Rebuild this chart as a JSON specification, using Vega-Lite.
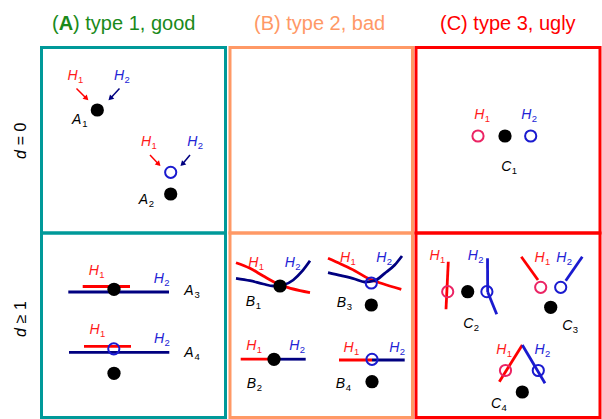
{
  "$schema": "https://vega.github.io/schema/vega-lite/v6.json",
  "width": 602,
  "height": 419,
  "autosize": "none",
  "padding": 0,
  "background": "white",
  "config": {"view": {"stroke": null}, "text": {"font": "Liberation Sans"}},
  "datasets": {
    "borders": [
      {"x": 41.5, "x2": 225.5, "y": 47.5, "y2": 233, "k": "tA"},
      {"x": 41.5, "x2": 225.5, "y": 233, "y2": 417.5, "k": "tA"},
      {"x": 230, "x2": 412.5, "y": 47.5, "y2": 233, "k": "tB"},
      {"x": 230, "x2": 412.5, "y": 233, "y2": 417.5, "k": "tB"},
      {"x": 416, "x2": 600, "y": 47.5, "y2": 233, "k": "tC"},
      {"x": 416, "x2": 600, "y": 233, "y2": 417.5, "k": "tC"}
    ],
    "titles": [
      {"x": 52, "y": 30, "t": "(", "k": "gA"},
      {"x": 73.1, "y": 30, "t": ") type 1, good", "k": "gA"},
      {"x": 254, "y": 30, "t": "(B) type 2, bad", "k": "tB"},
      {"x": 440, "y": 30, "t": "(C) type 3, ugly", "k": "tC"}
    ],
    "titlesBold": [
      {"x": 58.7, "y": 30, "t": "A", "k": "gA"}
    ],
    "rowItalic": [
      {"x": 21, "y": 159, "t": "d", "k": "black"},
      {"x": 21, "y": 337, "t": "d", "k": "black"}
    ],
    "rowRest": [
      {"x": 21, "y": 145.2, "t": "=\u00a00", "k": "black"},
      {"x": 21, "y": 323.2, "t": "≥\u00a01", "k": "black"}
    ],
    "segments": [
      {"x": 68.3, "y": 292, "x2": 169, "y2": 292, "k": "navy"},
      {"x": 82.7, "y": 286.5, "x2": 130, "y2": 286.5, "k": "red"},
      {"x": 69, "y": 352.3, "x2": 169.3, "y2": 352.3, "k": "navy"},
      {"x": 84, "y": 346.3, "x2": 131, "y2": 346.3, "k": "red"},
      {"x": 240.7, "y": 359.2, "x2": 274.7, "y2": 359.2, "k": "red"},
      {"x": 274.7, "y": 359.2, "x2": 305.7, "y2": 359.2, "k": "navy"},
      {"x": 339, "y": 360, "x2": 372, "y2": 360, "k": "red"},
      {"x": 372, "y": 360, "x2": 404.7, "y2": 360, "k": "navy"},
      {"x": 448.3, "y": 261.7, "x2": 446, "y2": 309.3, "k": "red"},
      {"x": 487.5, "y": 258.3, "x2": 487.7, "y2": 292, "k": "blue"},
      {"x": 487.7, "y": 292, "x2": 496.7, "y2": 314.3, "k": "blue"},
      {"x": 521.3, "y": 256.7, "x2": 538, "y2": 280, "k": "red"},
      {"x": 565.7, "y": 280.7, "x2": 582.3, "y2": 256.7, "k": "blue"},
      {"x": 499.3, "y": 381.7, "x2": 522.3, "y2": 345, "k": "red"},
      {"x": 522.3, "y": 345, "x2": 545, "y2": 383.3, "k": "blue"}
    ],
    "curves": [
      {"g": "b1r", "k": "red", "o": 1, "x": 236, "y": 262.7},
      {"g": "b1r", "k": "red", "o": 2, "x": 250, "y": 268.3},
      {"g": "b1r", "k": "red", "o": 3, "x": 263.3, "y": 276},
      {"g": "b1r", "k": "red", "o": 4, "x": 276.7, "y": 283.3},
      {"g": "b1r", "k": "red", "o": 5, "x": 288.3, "y": 287.7},
      {"g": "b1r", "k": "red", "o": 6, "x": 300, "y": 290.7},
      {"g": "b1r", "k": "red", "o": 7, "x": 310, "y": 292.7},
      {"g": "b1n", "k": "navy", "o": 1, "x": 236, "y": 278.3},
      {"g": "b1n", "k": "navy", "o": 2, "x": 250, "y": 280.7},
      {"g": "b1n", "k": "navy", "o": 3, "x": 263.3, "y": 284},
      {"g": "b1n", "k": "navy", "o": 4, "x": 273.3, "y": 286},
      {"g": "b1n", "k": "navy", "o": 5, "x": 283.3, "y": 285},
      {"g": "b1n", "k": "navy", "o": 6, "x": 293.3, "y": 280},
      {"g": "b1n", "k": "navy", "o": 7, "x": 301.7, "y": 271.7},
      {"g": "b1n", "k": "navy", "o": 8, "x": 310, "y": 260.7},
      {"g": "b3r", "k": "red", "o": 1, "x": 328, "y": 258.3},
      {"g": "b3r", "k": "red", "o": 2, "x": 341.3, "y": 264.3},
      {"g": "b3r", "k": "red", "o": 3, "x": 354.7, "y": 270.7},
      {"g": "b3r", "k": "red", "o": 4, "x": 368, "y": 278.3},
      {"g": "b3r", "k": "red", "o": 5, "x": 381.3, "y": 283.3},
      {"g": "b3r", "k": "red", "o": 6, "x": 401.3, "y": 289.3},
      {"g": "b3n", "k": "navy", "o": 1, "x": 328, "y": 272.7},
      {"g": "b3n", "k": "navy", "o": 2, "x": 341.3, "y": 275.7},
      {"g": "b3n", "k": "navy", "o": 3, "x": 354.7, "y": 279},
      {"g": "b3n", "k": "navy", "o": 4, "x": 364.7, "y": 282},
      {"g": "b3n", "k": "navy", "o": 5, "x": 374.7, "y": 280.7},
      {"g": "b3n", "k": "navy", "o": 6, "x": 384.7, "y": 273.3},
      {"g": "b3n", "k": "navy", "o": 7, "x": 394.7, "y": 265},
      {"g": "b3n", "k": "navy", "o": 8, "x": 402, "y": 256}
    ],
    "arrows": [
      {"x": 76.5, "y": 88.5, "x2": 86.5, "y2": 98.5, "k": "red"},
      {"x": 119.5, "y": 88.5, "x2": 110.3, "y2": 98.5, "k": "navy"},
      {"x": 150, "y": 155, "x2": 158.7, "y2": 164.2, "k": "red"},
      {"x": 190, "y": 155, "x2": 182.3, "y2": 164.2, "k": "navy"}
    ],
    "dots": [
      {"x": 97.3, "y": 110, "k": "black"},
      {"x": 170.7, "y": 194, "k": "black"},
      {"x": 114, "y": 289.3, "k": "black"},
      {"x": 114, "y": 373.3, "k": "black"},
      {"x": 280, "y": 286, "k": "black"},
      {"x": 371.3, "y": 305, "k": "black"},
      {"x": 274, "y": 359.3, "k": "black"},
      {"x": 372, "y": 381.7, "k": "black"},
      {"x": 505, "y": 136, "k": "black"},
      {"x": 467.7, "y": 291.7, "k": "black"},
      {"x": 550.7, "y": 307.3, "k": "black"},
      {"x": 522.3, "y": 392, "k": "black"}
    ],
    "rings": [
      {"x": 170.7, "y": 172.3, "k": "blue"},
      {"x": 113.8, "y": 348.8, "k": "blue"},
      {"x": 371.3, "y": 283, "k": "blue"},
      {"x": 372, "y": 359.3, "k": "blue"},
      {"x": 530.7, "y": 136, "k": "blue"},
      {"x": 486.9, "y": 291.7, "k": "blue"},
      {"x": 560.7, "y": 287.3, "k": "blue"},
      {"x": 538.3, "y": 370.5, "k": "blue"},
      {"x": 478, "y": 136, "k": "pink"},
      {"x": 447.7, "y": 291.7, "k": "pink"},
      {"x": 540.7, "y": 287.3, "k": "pink"},
      {"x": 505.5, "y": 370.5, "k": "pink"}
    ],
    "labels": [
      {"x": 72.5, "y": 80, "t": "H", "s": "1", "k": "h1"},
      {"x": 119, "y": 80, "t": "H", "s": "2", "k": "h2"},
      {"x": 76.7, "y": 124.3, "t": "A", "s": "1", "k": "black"},
      {"x": 146, "y": 146, "t": "H", "s": "1", "k": "h1"},
      {"x": 192.3, "y": 146, "t": "H", "s": "2", "k": "h2"},
      {"x": 143.3, "y": 204.3, "t": "A", "s": "2", "k": "black"},
      {"x": 93.8, "y": 275, "t": "H", "s": "1", "k": "h1"},
      {"x": 158.7, "y": 283.3, "t": "H", "s": "2", "k": "h2"},
      {"x": 189, "y": 295, "t": "A", "s": "3", "k": "black"},
      {"x": 94.5, "y": 334.3, "t": "H", "s": "1", "k": "h1"},
      {"x": 159, "y": 343.3, "t": "H", "s": "2", "k": "h2"},
      {"x": 189, "y": 356.7, "t": "A", "s": "4", "k": "black"},
      {"x": 253.3, "y": 266.7, "t": "H", "s": "1", "k": "h1"},
      {"x": 289.7, "y": 266.7, "t": "H", "s": "2", "k": "h2"},
      {"x": 250.3, "y": 306, "t": "B", "s": "1", "k": "black"},
      {"x": 345, "y": 261.7, "t": "H", "s": "1", "k": "h1"},
      {"x": 381.3, "y": 261.7, "t": "H", "s": "2", "k": "h2"},
      {"x": 341.3, "y": 306.7, "t": "B", "s": "3", "k": "black"},
      {"x": 251.3, "y": 350, "t": "H", "s": "1", "k": "h1"},
      {"x": 294.2, "y": 350, "t": "H", "s": "2", "k": "h2"},
      {"x": 251.3, "y": 388.3, "t": "B", "s": "2", "k": "black"},
      {"x": 348.5, "y": 351.7, "t": "H", "s": "1", "k": "h1"},
      {"x": 394.2, "y": 351.7, "t": "H", "s": "2", "k": "h2"},
      {"x": 340.3, "y": 388.3, "t": "B", "s": "4", "k": "black"},
      {"x": 479.3, "y": 119, "t": "H", "s": "1", "k": "h1"},
      {"x": 526.3, "y": 119, "t": "H", "s": "2", "k": "h2"},
      {"x": 506.3, "y": 171, "t": "C", "s": "1", "k": "black"},
      {"x": 434.5, "y": 260, "t": "H", "s": "1", "k": "h1"},
      {"x": 472.8, "y": 260, "t": "H", "s": "2", "k": "h2"},
      {"x": 468.3, "y": 327.7, "t": "C", "s": "2", "k": "black"},
      {"x": 539.5, "y": 261.7, "t": "H", "s": "1", "k": "h1"},
      {"x": 561.2, "y": 261.7, "t": "H", "s": "2", "k": "h2"},
      {"x": 567.3, "y": 330, "t": "C", "s": "3", "k": "black"},
      {"x": 501.2, "y": 354.3, "t": "H", "s": "1", "k": "h1"},
      {"x": 539.5, "y": 354.3, "t": "H", "s": "2", "k": "h2"},
      {"x": 496, "y": 408.3, "t": "C", "s": "4", "k": "black"}
    ]
  },
  "encoding": {
    "x": {"field": "x", "type": "quantitative", "scale": {"domain": [0, 602], "nice": false, "zero": false}, "axis": null},
    "y": {"field": "y", "type": "quantitative", "scale": {"domain": [0, 419], "nice": false, "zero": false, "reverse": true}, "axis": null},
    "color": {"field": "k", "type": "nominal", "legend": null,
      "scale": {"domain": ["tA", "tB", "tC", "gA", "red", "navy", "blue", "pink", "h1", "h2", "black"],
                "range": ["#009999", "#FF9966", "#FF0000", "#1A8A1A", "#FF0000", "#000080", "#1A1ACF", "#EB2464", "#FF1A1A", "#2323D5", "#000000"]}}
  },
  "layer": [
    {"data": {"name": "borders"}, "mark": {"type": "rect", "filled": false, "strokeWidth": 3},
     "encoding": {"x2": {"field": "x2"}, "y2": {"field": "y2"}}},
    {"data": {"name": "titles"}, "mark": {"type": "text", "align": "left", "baseline": "alphabetic", "fontSize": 20},
     "encoding": {"text": {"field": "t"}}},
    {"data": {"name": "titlesBold"}, "mark": {"type": "text", "align": "left", "baseline": "alphabetic", "fontSize": 20, "fontWeight": "bold"},
     "encoding": {"text": {"field": "t"}}},
    {"data": {"name": "rowItalic"}, "mark": {"type": "text", "align": "left", "baseline": "middle", "fontSize": 16, "fontStyle": "italic", "angle": 270},
     "encoding": {"text": {"field": "t"}}},
    {"data": {"name": "rowRest"}, "mark": {"type": "text", "align": "left", "baseline": "middle", "fontSize": 16, "angle": 270},
     "encoding": {"text": {"field": "t"}}},
    {"data": {"name": "segments"}, "mark": {"type": "rule", "strokeWidth": 2.8},
     "encoding": {"x2": {"field": "x2"}, "y2": {"field": "y2"}}},
    {"data": {"name": "curves"}, "mark": {"type": "line", "strokeWidth": 2.8, "interpolate": "monotone"},
     "encoding": {"detail": {"field": "g"}, "order": {"field": "o", "type": "quantitative"}}},
    {"data": {"name": "arrows"}, "mark": {"type": "rule", "strokeWidth": 1.5},
     "encoding": {"x2": {"field": "x2"}, "y2": {"field": "y2"}}},
    {"data": {"name": "arrows"}, "transform": [{"filter": "datum.k == 'red'"}],
     "mark": {"type": "point", "shape": "triangle-right", "filled": true, "size": 36, "angle": 45, "opacity": 1},
     "encoding": {"x": {"field": "x2", "type": "quantitative"}, "y": {"field": "y2", "type": "quantitative"}}},
    {"data": {"name": "arrows"}, "transform": [{"filter": "datum.k == 'navy'"}],
     "mark": {"type": "point", "shape": "triangle-right", "filled": true, "size": 36, "angle": 135, "opacity": 1},
     "encoding": {"x": {"field": "x2", "type": "quantitative"}, "y": {"field": "y2", "type": "quantitative"}}},
    {"data": {"name": "dots"}, "mark": {"type": "point", "shape": "circle", "filled": true, "size": 175, "opacity": 1}},
    {"data": {"name": "rings"}, "mark": {"type": "point", "shape": "circle", "filled": false, "size": 125, "strokeWidth": 2, "opacity": 1}},
    {"data": {"name": "labels"}, "mark": {"type": "text", "align": "center", "baseline": "alphabetic", "fontSize": 14, "fontStyle": "italic"},
     "encoding": {"text": {"field": "t"}}},
    {"data": {"name": "labels"}, "mark": {"type": "text", "align": "left", "baseline": "alphabetic", "fontSize": 9.5, "dx": 5.5, "dy": 3},
     "encoding": {"text": {"field": "s"}}}
  ]
}
